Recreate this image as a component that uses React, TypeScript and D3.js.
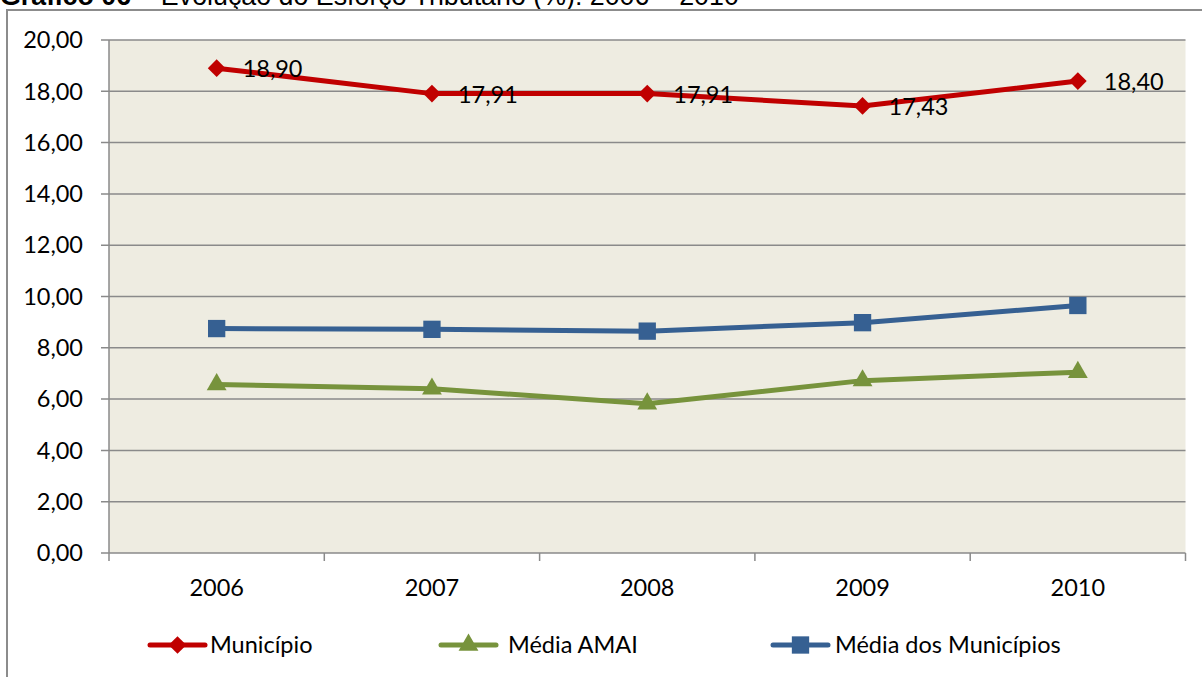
import React from "react";
import * as d3 from "d3";

const categories = ["2006", "2007", "2008", "2009", "2010"];
const municipio = [18.9, 17.91, 17.91, 17.43, 18.4];
const mediaAMAI = [6.57, 6.4, 5.82, 6.72, 7.05];
const mediaMunicipios = [8.75, 8.72, 8.65, 8.98, 9.65];
const yTicks = [0, 2, 4, 6, 8, 10, 12, 14, 16, 18, 20];
const seriesNames = ["Município", "Média AMAI", "Média dos Municípios"];

const W = 1202;
const H = 677;
const left = 109;
const right = 1185.5;
const top = 40;
const bottom = 553;
const font = "Lato, 'Open Sans', sans-serif";
const fs = 23.5;

export default function App() {
  const x = d3.scaleBand<string>().domain(categories).range([left, right]);
  const y = d3.scaleLinear().domain([0, 20]).range([bottom, top]);
  const cx = (c: string) => (x(c) as number) + x.bandwidth() / 2;
  const line = d3
    .line<number>()
    .x((_, i) => cx(categories[i]))
    .y((d) => y(d));
  const fmt = (v: number) => v.toFixed(2).replace(".", ",");

  const series = [
    { name: seriesNames[0], data: municipio, color: "#C00000", marker: "diamond" },
    { name: seriesNames[1], data: mediaAMAI, color: "#77933C", marker: "triangle" },
    { name: seriesNames[2], data: mediaMunicipios, color: "#366092", marker: "square" },
  ];

  const markerPath = (type: string) => {
    if (type === "diamond") return d3.symbol(d3.symbolDiamond2, 200)();
    if (type === "triangle") return d3.symbol(d3.symbolTriangle, 170)();
    return d3.symbol(d3.symbolSquare, 300)();
  };

  const boundaries = [...categories.map((c) => x(c) as number), right];

  const legendItems = [
    { s: series[0], lx: 150, tx: 210 },
    { s: series[1], lx: 441, tx: 508 },
    { s: series[2], lx: 773, tx: 835 },
  ];

  return (
    <svg
      width={W}
      height={H}
      style={{ position: "absolute", left: 0, top: 0, background: "#fff" }}
    >
      <text x={0} y={5} fontFamily="'Liberation Sans', Arial, sans-serif" fontSize={26.8} fill="#000">
        <tspan fontWeight="bold">Gráfico 06</tspan>
        <tspan> – Evolução do Esforço Tributário (%): 2006 – 2010</tspan>
      </text>
      <rect x={7} y={10} width={1220} height={700} fill="#fff" stroke="#8c8c8c" strokeWidth={2} />
      <rect x={left} y={top} width={right - left} height={bottom - top} fill="#EEECE1" />
      {yTicks.map((t) => (
        <g key={t}>
          <line x1={left - 8} x2={right} y1={y(t)} y2={y(t)} stroke="#8a8a8a" strokeWidth={1.5} />
          <text
            x={83}
            y={y(t)}
            dy="0.35em"
            textAnchor="end"
            fontFamily={font}
            fontSize={fs}
            fill="#000"
          >
            {fmt(t)}
          </text>
        </g>
      ))}
      <line x1={left} x2={left} y1={top} y2={bottom} stroke="#8a8a8a" strokeWidth={1.5} />
      {boundaries.map((b, i) => (
        <line key={i} x1={b} x2={b} y1={bottom} y2={bottom + 8} stroke="#8a8a8a" strokeWidth={1.5} />
      ))}
      {categories.map((c) => (
        <text
          key={c}
          x={cx(c)}
          y={588}
          dy="0.35em"
          textAnchor="middle"
          fontFamily={font}
          fontSize={fs}
          fill="#000"
        >
          {c}
        </text>
      ))}
      {series.map((s) => (
        <g key={s.name}>
          <path d={line(s.data) as string} fill="none" stroke={s.color} strokeWidth={5} strokeLinejoin="round" />
          {s.data.map((v, i) => (
            <path
              key={i}
              d={markerPath(s.marker) as string}
              transform={`translate(${cx(categories[i])},${y(v)})`}
              fill={s.color}
            />
          ))}
        </g>
      ))}
      {municipio.map((v, i) => (
        <text
          key={i}
          x={cx(categories[i]) + 26}
          y={y(v) + 1}
          dy="0.35em"
          fontFamily={font}
          fontSize={fs}
          fill="#000"
        >
          {fmt(v)}
        </text>
      ))}
      {legendItems.map(({ s, lx, tx }) => (
        <g key={s.name}>
          <line x1={lx} x2={lx + 55} y1={645} y2={645} stroke={s.color} strokeWidth={5} strokeLinecap="round" />
          <path
            d={markerPath(s.marker) as string}
            transform={`translate(${lx + 27.5},645)`}
            fill={s.color}
          />
          <text x={tx} y={645} dy="0.35em" fontFamily={font} fontSize={fs} fill="#000">
            {s.name}
          </text>
        </g>
      ))}
    </svg>
  );
}
